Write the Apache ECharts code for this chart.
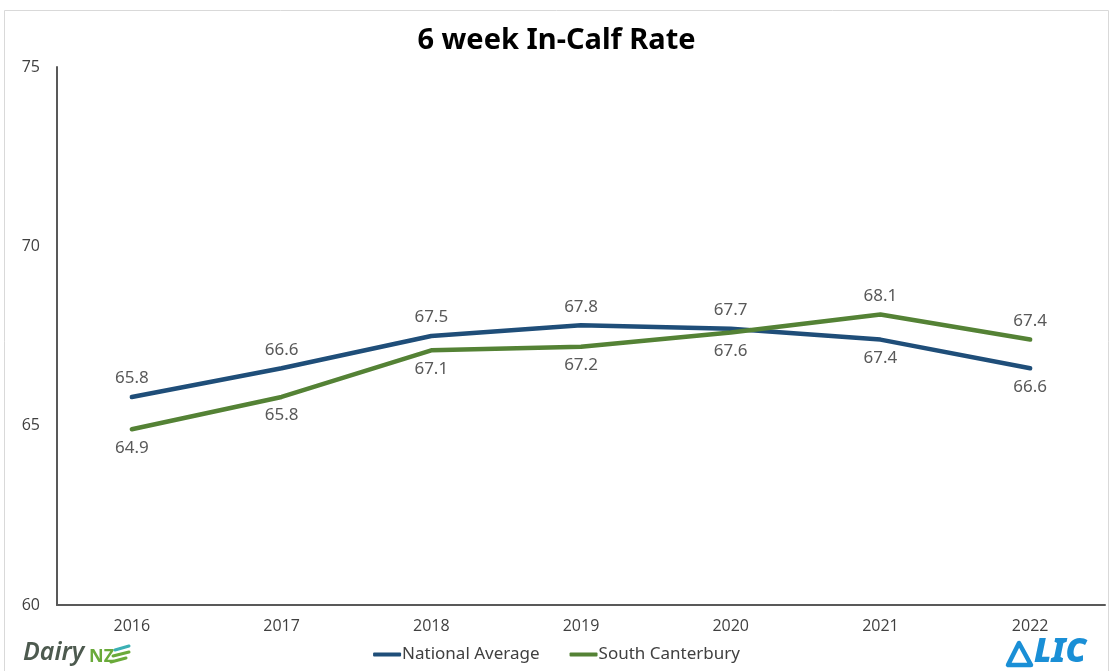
<!DOCTYPE html>
<html>
<head>
<meta charset="utf-8">
<script src="https://cdn.jsdelivr.net/npm/echarts@6/dist/echarts.min.js"></script>
<style>
html,body{margin:0;padding:0;background:#fff;}
#chart{width:1113px;height:671px;}
</style>
</head>
<body>
<div id="chart"></div>
<script>
const years = ['2016','2017','2018','2019','2020','2021','2022'];
const nationalAverage = [65.8, 66.6, 67.5, 67.8, 67.7, 67.4, 66.6];
const southCanterbury = [64.9, 65.8, 67.1, 67.2, 67.6, 68.1, 67.4];
const nationalLabelPos = ['top','top','top','top','top','bottom','bottom'];
const southLabelPos = ['bottom','bottom','bottom','bottom','bottom','top','top'];
const yTicks = [60, 65, 70, 75];

const chart = echarts.init(document.getElementById('chart'));
const labelFont = {color:'#595959', fontSize:17, fontFamily:'"Noto Sans", sans-serif', distance:10};

function mk(vals, pos){
  return vals.map((v,i)=>({value:v, label:{position:pos[i]}}));
}

chart.setOption({
  animation:false,
  backgroundColor:'#fff',
  title:{
    text:'6 week In-Calf Rate', left:'center', top:21,
    textStyle:{fontSize:29, fontWeight:'bold', color:'#000', fontFamily:'"Noto Sans", sans-serif'}
  },
  grid:{left:57, right:8, top:67, bottom:66},
  legend:{
    bottom:3, left:'center', itemWidth:28, itemHeight:4, itemGap:30,
    icon:'roundRect',
    textStyle:{fontSize:17, color:'#404040', fontFamily:'"Noto Sans", sans-serif', padding:[0,0,0,-4]},
    data:['National Average','South Canterbury']
  },
  xAxis:{
    type:'category', data:years, boundaryGap:true,
    axisLine:{lineStyle:{color:'#595959', width:2}},
    axisTick:{show:false},
    axisLabel:{color:'#404040', fontSize:16, margin:13, fontFamily:'"Open Sans", sans-serif'}
  },
  yAxis:{
    type:'value', min:yTicks[0], max:yTicks[yTicks.length-1], interval:5,
    axisLine:{show:true, lineStyle:{color:'#595959', width:2}},
    axisTick:{show:false},
    splitLine:{show:false},
    axisLabel:{color:'#404040', fontSize:16, margin:17, fontFamily:'"Open Sans", sans-serif'}
  },
  series:[
    {name:'National Average', type:'line', data:mk(nationalAverage, nationalLabelPos),
     symbol:'circle', symbolSize:0, showSymbol:true,
     lineStyle:{width:4.5, color:'#1F4E79', cap:'round'}, itemStyle:{color:'#1F4E79'},
     label:Object.assign({show:true}, labelFont), z:3},
    {name:'South Canterbury', type:'line', data:mk(southCanterbury, southLabelPos),
     symbol:'circle', symbolSize:0, showSymbol:true,
     lineStyle:{width:4.5, color:'#548235', cap:'round'}, itemStyle:{color:'#548235'},
     label:Object.assign({show:true}, labelFont), z:4}
  ],
  graphic:[
    {type:'rect', shape:{x:4.5, y:10.5, width:1104, height:700}, style:{fill:'none', stroke:'#d9d9d9', lineWidth:1}, silent:true, z:-1},
    {type:'text', left:23, top:640, style:{text:'Dairy', font:'italic 600 25px "Noto Sans", sans-serif', fill:'#4d5a4f'}},
    {type:'text', left:89, top:648, style:{text:'NZ', font:'bold 18px "Noto Sans", sans-serif', fill:'#6aaa3a'}},
    {type:'polyline', shape:{points:[[115,650],[129,646]]}, style:{stroke:'#3bb0b4', lineWidth:3, lineCap:'round'}},
    {type:'polyline', shape:{points:[[113,656],[129,652]]}, style:{stroke:'#6aaa3a', lineWidth:3, lineCap:'round'}},
    {type:'polyline', shape:{points:[[111,662],[126,658]]}, style:{stroke:'#6aaa3a', lineWidth:3, lineCap:'round'}},
    {type:'polygon', shape:{points:[[1019,643],[1008,665],[1031,665]]}, style:{fill:'none', stroke:'#1a8fd6', lineWidth:4.5, lineJoin:'round'}},
    {type:'text', left:1034, top:636, style:{text:'LIC', font:'italic 900 33px "Noto Sans", sans-serif', fill:'#1a8fd6'}}
  ]
});
</script>
</body>
</html>
